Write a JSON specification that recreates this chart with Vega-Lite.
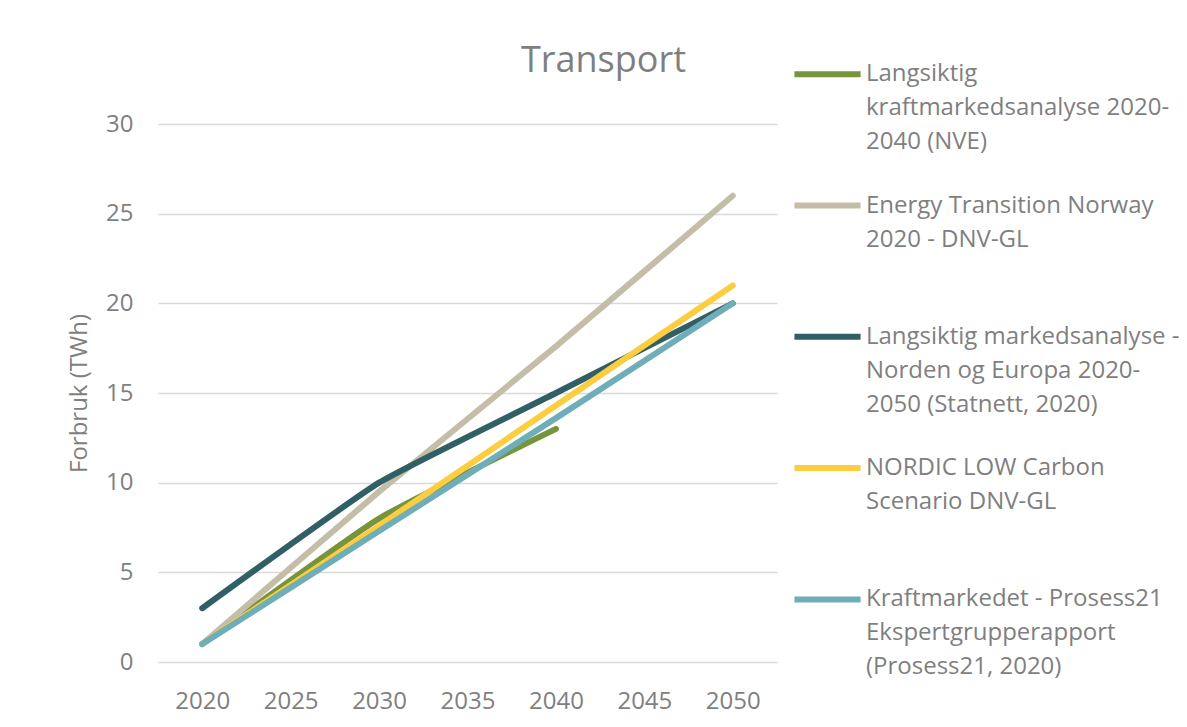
{
  "$schema": "https://vega.github.io/schema/vega-lite/v6.json",
  "autosize": "none",
  "width": 619,
  "height": 538,
  "padding": {"left": 158, "top": 124, "right": 410, "bottom": 65},
  "background": "white",
  "title": {
    "text": "Transport",
    "anchor": "middle",
    "frame": "group",
    "dx": 136,
    "fontSize": 36,
    "font": "Open Sans",
    "fontWeight": "normal",
    "color": "#7f7f7f",
    "baseline": "alphabetic",
    "offset": -70
  },
  "data": {
    "values": [
      {"series": "NVE", "year": 2020, "value": 1},
      {"series": "NVE", "year": 2030, "value": 8},
      {"series": "NVE", "year": 2040, "value": 13},
      {"series": "ETN", "year": 2020, "value": 1},
      {"series": "ETN", "year": 2030, "value": 9.5},
      {"series": "ETN", "year": 2040, "value": 17.6},
      {"series": "ETN", "year": 2050, "value": 26},
      {"series": "STN", "year": 2020, "value": 3},
      {"series": "STN", "year": 2030, "value": 10},
      {"series": "STN", "year": 2040, "value": 15},
      {"series": "STN", "year": 2050, "value": 20},
      {"series": "NLC", "year": 2020, "value": 1},
      {"series": "NLC", "year": 2030, "value": 7.6},
      {"series": "NLC", "year": 2040, "value": 14.3},
      {"series": "NLC", "year": 2050, "value": 21},
      {"series": "P21", "year": 2020, "value": 1},
      {"series": "P21", "year": 2030, "value": 7.3},
      {"series": "P21", "year": 2040, "value": 13.6},
      {"series": "P21", "year": 2050, "value": 20}
    ]
  },
  "mark": {"type": "line", "strokeWidth": 6, "strokeCap": "round", "strokeJoin": "round", "interpolate": "cardinal", "tension": 0.6},
  "encoding": {
    "x": {
      "field": "year",
      "type": "quantitative",
      "scale": {"domain": [2017.5, 2052.5], "nice": false, "zero": false},
      "axis": {
        "values": [2020, 2025, 2030, 2035, 2040, 2045, 2050],
        "format": "d",
        "title": null,
        "grid": false,
        "domain": false,
        "ticks": false,
        "labelPadding": 27,
        "labelFontSize": 24,
        "labelFont": "Open Sans",
        "labelColor": "#7f7f7f"
      }
    },
    "y": {
      "field": "value",
      "type": "quantitative",
      "scale": {"domain": [0, 30], "nice": false},
      "axis": {
        "values": [0, 5, 10, 15, 20, 25, 30],
        "title": "Forbruk (TWh)",
        "titleFontSize": 24,
        "titleFont": "Open Sans",
        "titleFontWeight": "normal",
        "titleColor": "#7f7f7f",
        "titlePadding": 14,
        "grid": true,
        "gridColor": "#d9d9d9",
        "gridWidth": 1.5,
        "domain": false,
        "ticks": false,
        "labelPadding": 25,
        "labelFontSize": 24,
        "labelFont": "Open Sans",
        "labelColor": "#7f7f7f"
      }
    },
    "color": {
      "field": "series",
      "type": "nominal",
      "scale": {
        "domain": ["NVE", "ETN", "STN", "NLC", "P21"],
        "range": ["#77933c", "#c4bda7", "#315f66", "#fccd3f", "#6faeb8"]
      },
      "legend": {
        "title": null,
        "orient": "none",
        "legendX": 633,
        "legendY": -86.3,
        "padding": 0,
        "symbolType": "stroke",
        "symbolSize": 4376,
        "symbolStrokeWidth": 6,
        "symbolOpacity": 1,
        "labelFontSize": 24,
        "labelFont": "Open Sans",
        "labelColor": "#7f7f7f",
        "labelOffset": 2,
        "labelLimit": 400,
        "labelBaseline": "middle",
        "gridAlign": "all",
        "rowPadding": 14.3,
        "encode": {"labels": {"update": {"lineHeight": {"value": 34}}}},
        "labelExpr": "datum.value == 'NVE' ? ['Langsiktig', 'kraftmarkedsanalyse 2020-', '2040 (NVE)'] : datum.value == 'ETN' ? ['Energy Transition Norway', '2020 - DNV-GL'] : datum.value == 'STN' ? ['Langsiktig markedsanalyse -', 'Norden og Europa 2020-', '2050 (Statnett, 2020)'] : datum.value == 'NLC' ? ['NORDIC LOW Carbon', 'Scenario DNV-GL'] : ['Kraftmarkedet - Prosess21', 'Ekspertgrupperapport', '(Prosess21, 2020)']"
      }
    }
  },
  "config": {
    "view": {"stroke": null}
  }
}
